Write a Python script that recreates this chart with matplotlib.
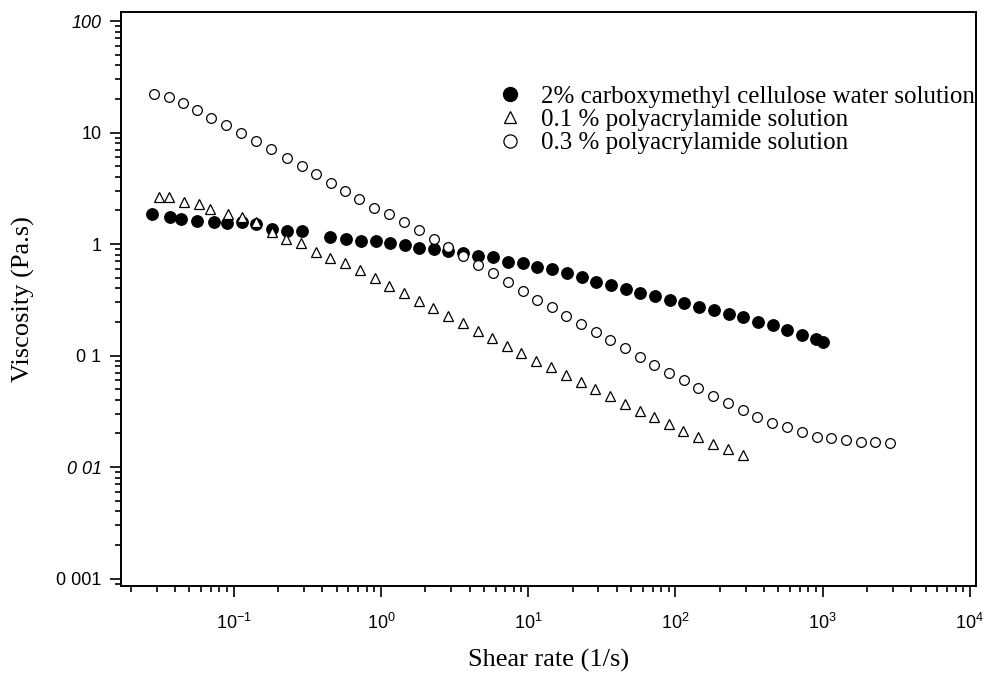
import matplotlib
matplotlib.use("Agg")
import matplotlib.pyplot as plt
from matplotlib.ticker import LogLocator, FixedLocator, FixedFormatter, NullFormatter

# 2% carboxymethyl cellulose water solution
cmc_rate = [0.0279, 0.0369, 0.0438, 0.056, 0.0738, 0.0904, 0.114, 0.142, 0.181, 0.229,
            0.289, 0.450, 0.578, 0.728, 0.920, 1.16, 1.46, 1.82, 2.28, 2.87,
            3.62, 4.58, 5.74, 7.26, 9.18, 11.5, 14.5, 18.3, 23.1, 29.0,
            36.5, 45.9, 57.8, 72.6, 91.5, 115, 145, 183, 230, 289,
            364, 458, 576, 724, 902, 1012]
cmc_visc = [1.86, 1.74, 1.68, 1.61, 1.58, 1.55, 1.58, 1.50, 1.36, 1.31,
            1.31, 1.16, 1.10, 1.07, 1.06, 1.03, 0.97, 0.93, 0.91, 0.865,
            0.826, 0.780, 0.769, 0.693, 0.680, 0.625, 0.593, 0.546, 0.503, 0.459,
            0.429, 0.395, 0.366, 0.342, 0.316, 0.294, 0.274, 0.256, 0.236, 0.220,
            0.201, 0.187, 0.169, 0.154, 0.140, 0.132]

# 0.1 % polyacrylamide solution
pam1_rate = [0.0312, 0.0361, 0.0462, 0.0583, 0.0692, 0.0910, 0.114, 0.142, 0.181, 0.225,
             0.286, 0.360, 0.450, 0.572, 0.716, 0.906, 1.14, 1.43, 1.80, 2.27,
             2.87, 3.59, 4.54, 5.69, 7.15, 9.00, 11.3, 14.3, 18.0, 22.7,
             28.4, 35.9, 45.3, 57.1, 71.5, 90.2, 113, 143, 181, 228, 288]
pam1_visc = [2.62, 2.62, 2.37, 2.27, 2.08, 1.87, 1.76, 1.57, 1.29, 1.11,
             1.03, 0.853, 0.754, 0.671, 0.585, 0.492, 0.420, 0.361, 0.310, 0.265,
             0.226, 0.194, 0.166, 0.143, 0.122, 0.106, 0.0898, 0.0783, 0.0668, 0.0582,
             0.0498, 0.0433, 0.0367, 0.0320, 0.0279, 0.0243, 0.0212, 0.0187, 0.0162, 0.0144, 0.0128]

# 0.3 % polyacrylamide solution
pam3_rate = [0.0287, 0.0363, 0.0450, 0.0560, 0.0705, 0.0885, 0.112, 0.142, 0.179, 0.229,
             0.289, 0.360, 0.455, 0.572, 0.712, 0.900, 1.14, 1.44, 1.82, 2.28,
             2.87, 3.62, 4.58, 5.74, 7.26, 9.18, 11.5, 14.5, 18.2, 22.9,
             28.7, 36.2, 45.7, 57.3, 71.9, 90.5, 114, 143, 181, 228,
             288, 360, 455, 572, 723, 910, 1140, 1440, 1820, 2270, 2870]
pam3_visc = [22.0, 20.8, 18.3, 15.9, 13.6, 11.7, 9.9, 8.4, 7.05, 5.9,
             5.0, 4.24, 3.50, 3.0, 2.52, 2.12, 1.85, 1.58, 1.34, 1.11,
             0.934, 0.780, 0.644, 0.546, 0.454, 0.381, 0.313, 0.271, 0.227, 0.192,
             0.163, 0.137, 0.116, 0.0976, 0.0829, 0.0703, 0.0603, 0.0508, 0.0438, 0.0376,
             0.0327, 0.0279, 0.0247, 0.0227, 0.0207, 0.0187, 0.0181, 0.0175, 0.0169, 0.0167, 0.0163]

series_labels = ["2% carboxymethyl cellulose water solution",
                 "0.1 % polyacrylamide solution",
                 "0.3 % polyacrylamide solution"]

y_tick_values = [0.001, 0.01, 0.1, 1, 10, 100]
y_tick_labels = ["0 001", "0 01", "0 1", "1", "10", "100"]
x_tick_values = [0.1, 1, 10, 100, 1000, 10000]
x_tick_labels = [r"$10^{-1}$", r"$10^{0}$", r"$10^{1}$", r"$10^{2}$", r"$10^{3}$", r"$10^{4}$"]

serif = ["Liberation Serif", "DejaVu Serif"]
sans = ["Liberation Sans", "DejaVu Sans"]
plt.rcParams["mathtext.fontset"] = "custom"
plt.rcParams["mathtext.rm"] = "Liberation Sans"
plt.rcParams["mathtext.it"] = "Liberation Sans:italic"

fig = plt.figure(figsize=(9.85, 6.77), dpi=100)
ax = fig.add_axes([0.1228, 0.1344, 0.8681, 0.8479])

ax.plot(cmc_rate, cmc_visc, linestyle="none", marker="o", markersize=8.2,
        markerfacecolor="black", markeredgecolor="black", label=series_labels[0])
ax.plot(pam1_rate, pam1_visc, linestyle="none", marker="^", markersize=7,
        markerfacecolor="white", markeredgecolor="black", markeredgewidth=0.9,
        label=series_labels[1])
ax.plot(pam3_rate, pam3_visc, linestyle="none", marker="o", markersize=7,
        markerfacecolor="white", markeredgecolor="black", markeredgewidth=0.9,
        label=series_labels[2])

ax.set_xscale("log")
ax.set_yscale("log")
ax.set_xlim(0.01713, 11020)
ax.set_ylim(0.000857, 120.5)

ax.xaxis.set_major_locator(FixedLocator(x_tick_values))
ax.xaxis.set_major_formatter(FixedFormatter(x_tick_labels))
ax.xaxis.set_minor_locator(LogLocator(base=10, subs=range(2, 10), numticks=20))
ax.xaxis.set_minor_formatter(NullFormatter())
ax.yaxis.set_major_locator(FixedLocator(y_tick_values))
ax.yaxis.set_major_formatter(FixedFormatter(y_tick_labels))
ax.yaxis.set_minor_locator(LogLocator(base=10, subs=range(2, 10), numticks=20))
ax.yaxis.set_minor_formatter(NullFormatter())

ax.tick_params(which="both", direction="out", top=False, right=False, width=1.2, colors="black")
ax.tick_params(which="major", length=8)
ax.tick_params(which="minor", length=4.5)
ax.tick_params(axis="x", which="major", pad=11)
ax.tick_params(axis="y", which="major", pad=6)
for lab in ax.get_xticklabels():
    lab.set_fontfamily(sans)
    lab.set_fontsize(13)
for lab in ax.get_yticklabels():
    lab.set_fontfamily(sans)
    lab.set_fontsize(13)
    if lab.get_text() in ("100", "0 01"):
        lab.set_fontstyle("italic")

for sp in ax.spines.values():
    sp.set_linewidth(1.4)

ax.set_xlabel("Shear rate (1/s)", family=serif, fontsize=19, labelpad=12)
ax.set_ylabel("Viscosity (Pa.s)", family=serif, fontsize=19, labelpad=15)

leg = ax.legend(loc="upper left", bbox_to_anchor=(0.441, 0.872), frameon=False,
                borderpad=0, borderaxespad=0, handlelength=0.95, handletextpad=0.75,
                labelspacing=0.03, prop={"family": serif, "size": 18})
for h, ms in zip(leg.legend_handles, (10, 9, 9.5)):
    h.set_markersize(ms)

fig.savefig("out.png", dpi=100)
